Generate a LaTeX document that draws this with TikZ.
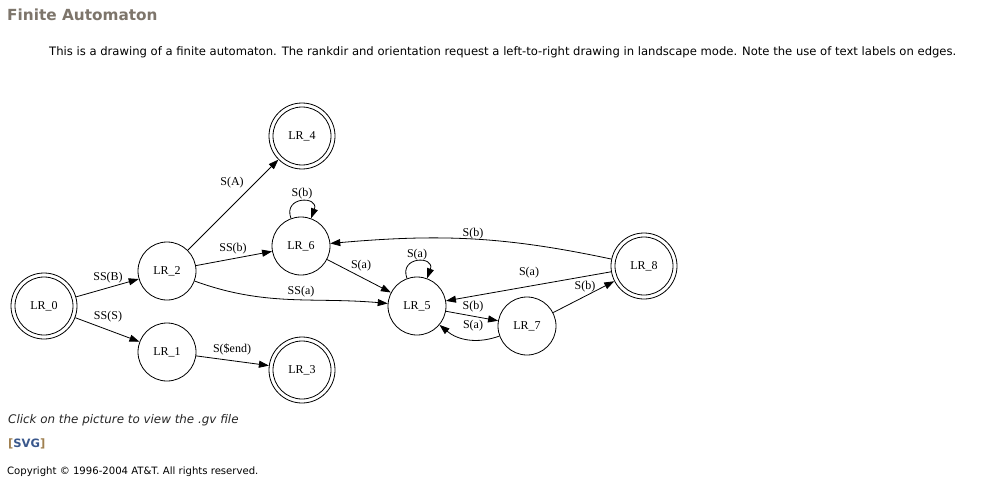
\documentclass[tikz,border=0pt]{standalone}
\usepackage{fontspec}
\setmainfont{Liberation Serif}
\newfontfamily\pagefont{DejaVu Sans}
\usetikzlibrary{arrows.meta}
\definecolor{titlegray}{RGB}{125,117,107}
\definecolor{linkblue}{RGB}{58,88,140}
\definecolor{brack}{RGB}{160,128,80}
\begin{document}
\begin{tikzpicture}[x=1pt,y=1pt,
  st/.style={circle,draw,line width=0.8pt,minimum size=58pt,inner sep=0pt,font=\fontsize{12}{14}\selectfont},
  acc/.style={st,minimum size=66pt,path picture={\draw[line width=0.8pt] (path picture bounding box.center) circle[radius=29pt];}},
  edge/.style={draw,line width=0.8pt,-{Triangle[length=10pt,width=7pt]}},
  lab/.style={inner sep=0pt,font=\fontsize{12}{14}\selectfont},
  pagetxt/.style={anchor=base west,inner sep=0pt}]
\useasboundingbox (0,0) rectangle (998,-484);
\fill[white] (0,0) rectangle (998,-484);
% page texts
\node[pagetxt,font=\pagefont\bfseries\fontsize{15.3}{18}\selectfont,text=titlegray] (title) at (7,-21) {Finite Automaton};
\node[pagetxt,font=\pagefont\fontsize{11.6}{14}\selectfont] (desc) at (49,-56) {This is a drawing of a finite automaton. The rankdir and orientation request a left-to-right drawing in landscape mode. Note the use of text labels on edges.};
\node[pagetxt,font=\pagefont\itshape\fontsize{11.9}{14}\selectfont,text=black!85] (click) at (8,-423) {Click on the picture to view the .gv file};
\node[pagetxt,font=\pagefont\bfseries\fontsize{11.5}{14}\selectfont] (svg) at (8,-447) {\textcolor{brack}{[}\textcolor{linkblue}{SVG}\textcolor{brack}{]}};
\node[pagetxt,font=\pagefont\fontsize{10.1}{12}\selectfont] (copy) at (7,-474) {Copyright \textcopyright{} 1996-2004 AT\&T. All rights reserved.};
% states
\node[acc] (n0) at (44,-306) {LR\_0};
\node[st]  (n2) at (167,-271) {LR\_2};
\node[st]  (n1) at (167,-352) {LR\_1};
\node[acc] (n4) at (302,-136) {LR\_4};
\node[st]  (n6) at (301,-246) {LR\_6};
\node[acc] (n3) at (302,-370) {LR\_3};
\node[st]  (n5) at (417,-306) {LR\_5};
\node[st]  (n7) at (527,-326) {LR\_7};
\node[acc] (n8) at (644,-266) {LR\_8};
% edges
\draw[edge] (n0) -- (n2);
\draw[edge] (n0) -- (n1);
\draw[edge] (n1) -- (n3);
\draw[edge] (n2) -- (n6);
\draw[edge] (n2) to[out=-20,in=175] (n5);
\draw[edge] (n2) -- (n4);
\draw[edge] (n6.110) to[out=110,in=70,distance=24pt] (n6.70);
\draw[edge] (n6) -- (n5);
\draw[edge] (n5.110) to[out=110,in=70,distance=24pt] (n5.70);
\draw[edge] (n5) -- (n7);
\draw[edge] (n7) to[out=200,in=-40] (n5);
\draw[edge] (n7) -- (n8);
\draw[edge] (n8) -- (n5);
\draw[edge] (n8) to[out=168,in=5] (n6);
% labels
\node[lab] (l1) at (108,-278) {SS(B)};
\node[lab] (l2) at (108,-317) {SS(S)};
\node[lab] (l3) at (232,-349) {S(\$end)};
\node[lab] (l4) at (233,-249) {SS(b)};
\node[lab] (l5) at (301,-292) {SS(a)};
\node[lab] (l6) at (232,-183) {S(A)};
\node[lab] (l7) at (302,-194) {S(b)};
\node[lab] (l8) at (361,-266) {S(a)};
\node[lab] (l9) at (417,-255) {S(a)};
\node[lab] (l10) at (473,-234) {S(b)};
\node[lab] (l11) at (529,-273) {S(a)};
\node[lab] (l12) at (585,-287) {S(b)};
\node[lab] (l13) at (473,-307) {S(b)};
\node[lab] (l14) at (473,-326) {S(a)};
\end{tikzpicture}
\end{document}
